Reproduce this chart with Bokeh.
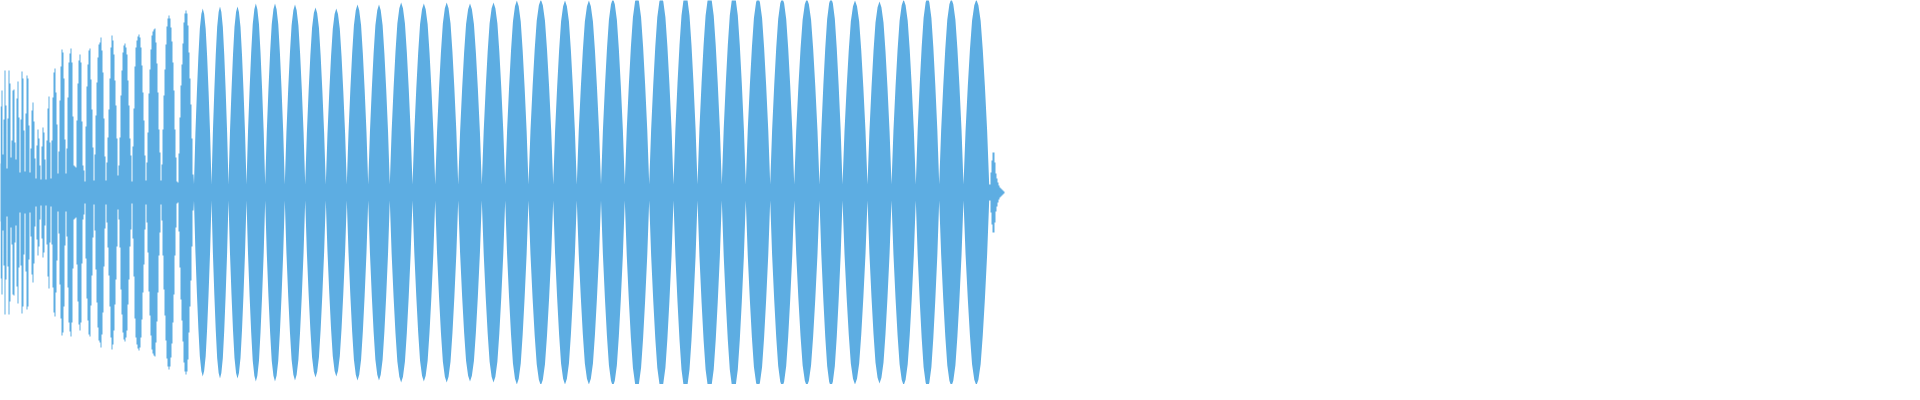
from bokeh.plotting import figure
from bokeh.models import ColumnDataSource, Range1d
from bokeh.embed import file_html
from bokeh.resources import INLINE

# ---- data (amplitude levels per time bin) ----
# onset: one level per time bin, bins 0..200
head_level = [
    65, 48, 42, 75, 85, 18, 18, 29, 86, 102,
    38, 73, 122, 87, 24, 74, 122, 109, 35, 52,
    102, 103, 50, 33, 94, 111, 75, 20, 73, 121,
    114, 62, 21, 79, 117, 114, 67, 20, 44, 82,
    90, 71, 34, 14, 47, 63, 54, 27, 13, 46,
    65, 60, 33, 13, 52, 84, 96, 50, 14, 52,
    95, 120, 124, 100, 68, 19, 41, 92, 126, 143,
    140, 114, 53, 19, 44, 95, 130, 139, 144, 130,
    76, 27, 26, 25, 72, 109, 132, 138, 130, 71,
    27, 22, 11, 66, 106, 128, 142, 144, 113, 83,
    45, 12, 38, 77, 110, 135, 148, 150, 155, 142,
    120, 74, 36, 12, 30, 55, 83, 114, 145, 157,
    152, 138, 112, 87, 54, 17, 27, 55, 97, 122,
    140, 147, 149, 145, 138, 112, 87, 54, 37, 11,
    46, 84, 126, 145, 152, 156, 158, 155, 145, 127,
    100, 72, 37, 12, 30, 60, 99, 123, 143, 157,
    161, 163, 164, 150, 129, 100, 63, 40, 12, 28,
    63, 97, 123, 148, 166, 174, 177, 174, 165, 151,
    130, 102, 63, 35, 11, 10, 39, 75, 107, 128,
    149, 170, 179, 182, 179, 167, 140, 114, 88, 54,
    18,
]
head_start = 0

# sustained beating: trough positions (bins) and peak level of each lobe
lobe_troughs = [
    201.5, 219, 236, 254, 272.7, 292.3, 312.7, 333.3, 354.3, 375.7,
    397.3, 420, 442.7, 465.7, 489.3, 512.7, 536, 560.7, 584.3, 608.5,
    632.3, 656.7, 681, 705, 729.3, 753.3, 777.7, 801.7, 827, 850,
    875, 899, 923.3, 946.7, 971, 996.7,
]
lobe_peaks = [
    184, 186, 186, 189, 189, 188, 185, 184, 188, 188,
    190, 189, 190, 189, 190, 192, 193, 192, 192, 194,
    197, 197, 199, 199, 199, 196, 195, 194, 195, 192,
    191, 193, 196, 194, 193,
]
lobe_floor = 8
# measured lobe profile: fraction of lobe width -> fraction of lobe peak
profile_pos = [0.0, 0.08, 0.167, 0.25, 0.333, 0.42, 0.5, 0.58, 0.667, 0.75, 0.833, 0.92]
profile_frac = [0.0, 0.32, 0.55, 0.74, 0.89, 0.97, 1.0, 0.97, 0.89, 0.74, 0.55, 0.32]

# release: one level per time bin, bins 997..1011
tail_level = [8, 20, 32, 40, 40, 30, 19, 14, 10, 7, 5, 4, 3, 2, 1]
tail_start = 997

COLOR = "#5DADE2"

# ---- build the outline of the waveform ----
xs, amps = [], []
for i, a in enumerate(head_level):
    b = head_start + i
    xs += [b, b + 1]
    amps += [a, a]
for i, peak in enumerate(lobe_peaks):
    t0, t1 = lobe_troughs[i], lobe_troughs[i + 1]
    for pos, frac in zip(profile_pos, profile_frac):
        xs.append(t0 + pos * (t1 - t0))
        amps.append(max(lobe_floor, frac * peak))
xs.append(lobe_troughs[-1])
amps.append(lobe_floor)
for i, a in enumerate(tail_level):
    b = tail_start + i
    xs += [b, b + 1]
    amps += [a, a]

src = ColumnDataSource(dict(x=xs, top=amps, bottom=[-a for a in amps]))

p = figure(
    width=1904, height=384,
    x_range=Range1d(8, 1912), y_range=Range1d(-192, 192),
    output_backend="svg", toolbar_location=None,
    x_axis_location=None, y_axis_location=None,
    min_border=0,
)
p.grid.visible = False
p.outline_line_color = None
p.background_fill_color = "white"
p.border_fill_color = "white"

p.varea(x="x", y1="bottom", y2="top", source=src, fill_color=COLOR, fill_alpha=1.0)

open("out.html", "w").write(file_html(p, INLINE))
